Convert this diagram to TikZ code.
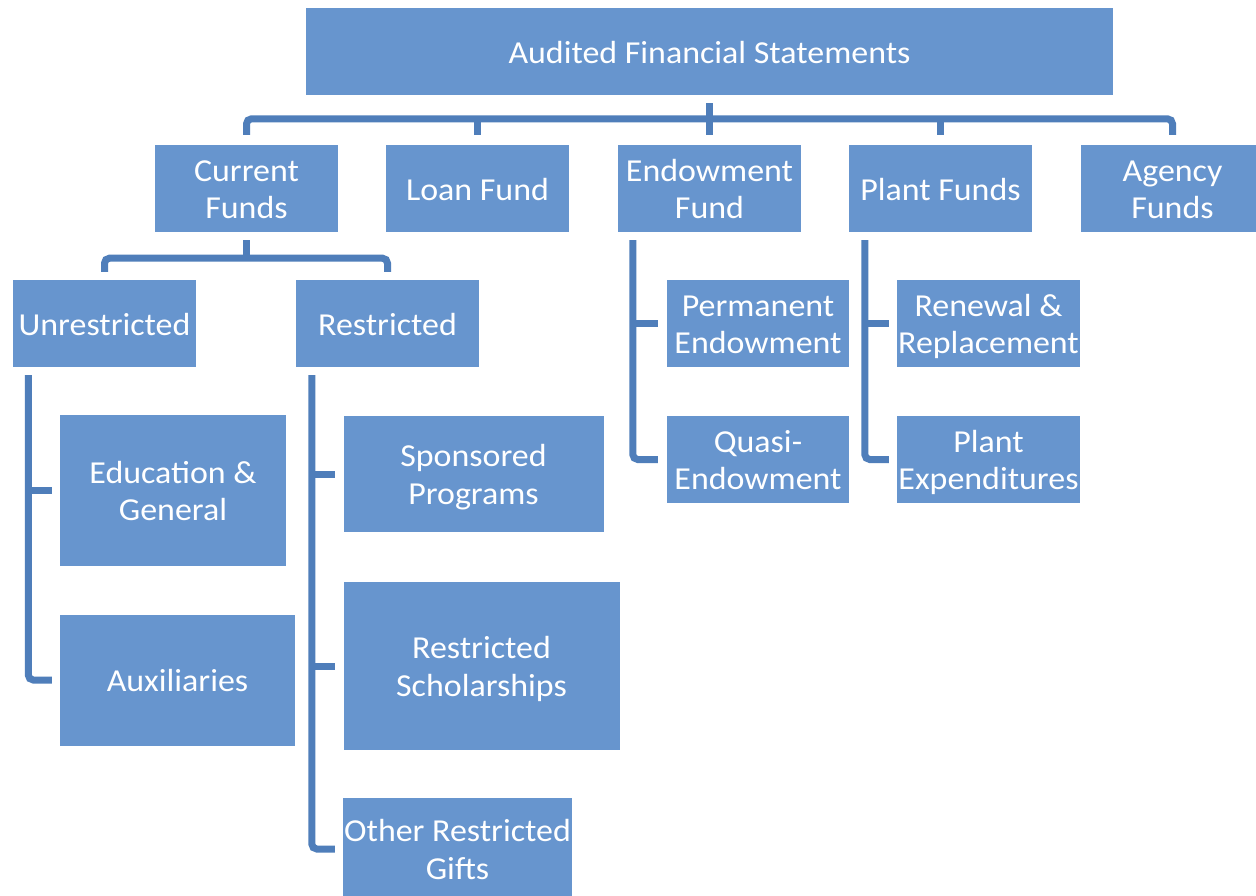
\documentclass[tikz,border=0pt]{standalone}
\usepackage{fontspec}
\setmainfont{Carlito}[FakeStretch=1.06]
\definecolor{boxfill}{RGB}{103,149,206}
\definecolor{linecol}{RGB}{79,126,186}
\tikzset{
  box/.style={rectangle, fill=boxfill, inner sep=0pt, text=white,
    font=\fontsize{32}{37.5}\selectfont},
  conn/.style={draw=linecol, line width=7pt, rounded corners=5pt}
}
\newcommand{\bt}[1]{\makebox[0pt]{\raisebox{-4pt}[\height][\depth]{\begin{tabular}{@{}c@{}}#1\end{tabular}}}}
\begin{document}
\begin{tikzpicture}[x=1pt,y=1pt]
\useasboundingbox (0,0) rectangle (1256,-895);
\fill[white] (0,0) rectangle (1256,-895);
\clip (0,0) rectangle (1256,-895);
% boxes
\node[box, minimum width=807, minimum height=87] (afs) at (709.5,-51.5) {\bt{Audited Financial Statements}};
\node[box, minimum width=183, minimum height=87] (cf) at (246.5,-188.5) {\bt{Current\\Funds}};
\node[box, minimum width=183, minimum height=87] (lf) at (477.5,-188.5) {\bt{Loan Fund}};
\node[box, minimum width=183, minimum height=87] (ef) at (709.5,-188.5) {\bt{Endowment\\Fund}};
\node[box, minimum width=183, minimum height=87] (pf) at (940.5,-188.5) {\bt{Plant Funds}};
\node[box, minimum width=183, minimum height=87] (ag) at (1172.5,-188.5) {\bt{Agency\\Funds}};
\node[box, minimum width=183, minimum height=87] (ur) at (104.5,-323.5) {\bt{Unrestricted}};
\node[box, minimum width=183, minimum height=87] (rs) at (387.5,-323.5) {\bt{Restricted}};
\node[box, minimum width=182, minimum height=87] (pe) at (758,-323.5) {\bt{Permanent\\Endowment}};
\node[box, minimum width=182, minimum height=87] (pq) at (758,-459.5) {\bt{Quasi-\\Endowment}};
\node[box, minimum width=183, minimum height=87] (rr) at (988.5,-323.5) {\bt{Renewal \&\\Replacement}};
\node[box, minimum width=183, minimum height=87] (px) at (988.5,-459.5) {\bt{Plant\\Expenditures}};
\node[box, minimum width=226, minimum height=151] (ed) at (173,-490.5) {\bt{Education \&\\General}};
\node[box, minimum width=235, minimum height=131] (aux) at (177.5,-680) {\bt{Auxiliaries}};
\node[box, minimum width=260, minimum height=116] (sp) at (473.5,-474) {\bt{Sponsored\\Programs}};
\node[box, minimum width=276, minimum height=168] (sc) at (481.5,-666) {\bt{Restricted\\Scholarships}};
\node[box, minimum width=229, minimum height=102] (ot) at (457.5,-849) {\bt{Other Restricted\\Gifts}};
% top level connectors
\draw[conn] ([yshift=-8pt]afs.south) -- ([yshift=26pt]ef.north);
\draw[conn] ([yshift=10pt]cf.north) -- ([yshift=26pt]cf.north) -- ([yshift=26pt]ag.north) -- ([yshift=10pt]ag.north);
\draw[conn] ([yshift=10pt]lf.north) -- ([yshift=26pt]lf.north);
\draw[conn] ([yshift=10pt]ef.north) -- ([yshift=26pt]ef.north);
\draw[conn] ([yshift=10pt]pf.north) -- ([yshift=26pt]pf.north);
% current funds
\draw[conn] ([yshift=-8pt]cf.south) -- ([yshift=-26pt]cf.south);
\draw[conn] ([yshift=8pt]ur.north) |- ([yshift=-26pt]cf.south) -| ([yshift=8pt]rs.north);
% unrestricted
\draw[conn] ([xshift=15.5pt,yshift=-8pt]ur.south west) |- ([xshift=-8pt]aux.west);
\draw[conn] ([xshift=15.5pt]ur.south west |- ed.west) -- ([xshift=-8pt]ed.west);
% restricted
\draw[conn] ([xshift=16pt,yshift=-8pt]rs.south west) |- ([xshift=-8pt]ot.west);
\draw[conn] ([xshift=16pt]rs.south west |- sp.west) -- ([xshift=-8pt]sp.west);
\draw[conn] ([xshift=16pt]rs.south west |- sc.west) -- ([xshift=-8pt]sc.west);
% endowment
\draw[conn] ([xshift=15pt,yshift=-8pt]ef.south west) |- ([xshift=-9pt]pq.west);
\draw[conn] ([xshift=15pt]ef.south west |- pe.west) -- ([xshift=-9pt]pe.west);
% plant
\draw[conn] ([xshift=16pt,yshift=-8pt]pf.south west) |- ([xshift=-8pt]px.west);
\draw[conn] ([xshift=16pt]pf.south west |- rr.west) -- ([xshift=-8pt]rr.west);
\end{tikzpicture}
\end{document}
